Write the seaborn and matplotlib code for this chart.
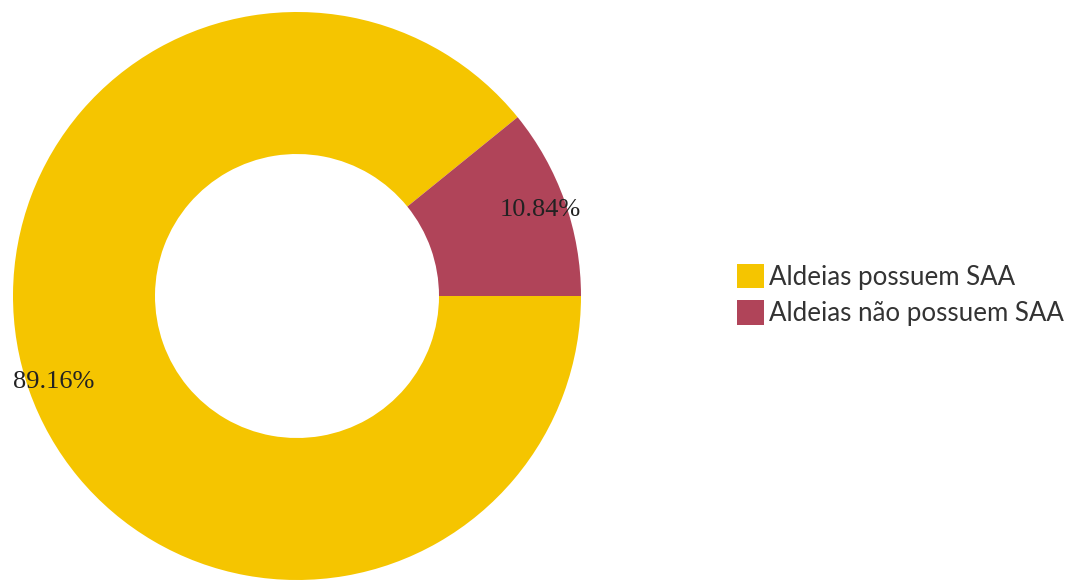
import matplotlib
matplotlib.use("Agg")
import matplotlib.pyplot as plt
import seaborn as sns
from matplotlib.patches import Patch

categories = ["Aldeias possuem SAA", "Aldeias não possuem SAA"]
values = [89.16, 10.84]
colors = ["#F5C500", "#B04459"]

sns.set_theme(style="white")
plt.rcParams['font.family'] = ['Lato', 'DejaVu Sans']

fig = plt.figure(figsize=(10.70, 5.81), dpi=100)
ax = fig.add_axes([13/1070, 1/581, 568/1070, 568/581])

start = 360 * values[1] / 100.0
wedges, texts, autotexts = ax.pie(
    values, colors=colors, startangle=start, counterclock=True,
    radius=1.0, wedgeprops=dict(width=0.5, edgecolor="none"),
    autopct=lambda p: f"{p:.2f}%", pctdistance=0.91,
    textprops=dict(family=["Liberation Serif"], fontsize=19, color="#222222"))
ax.set_xlim(-1, 1)
ax.set_ylim(-1, 1)
ax.set_aspect("equal")
ax.axis("off")

handles = [Patch(facecolor=c, edgecolor="none") for c in colors]
fig.legend(handles, categories, loc="center left", bbox_to_anchor=(737/1070, 1 - 295/581),
           frameon=False, fontsize=18.6, labelcolor="#333333", borderpad=0,
           borderaxespad=0,
           handlelength=1.05, handleheight=1.1, handletextpad=0.2,
           labelspacing=0.4)

fig.savefig("out.png", dpi=100, facecolor="white")
